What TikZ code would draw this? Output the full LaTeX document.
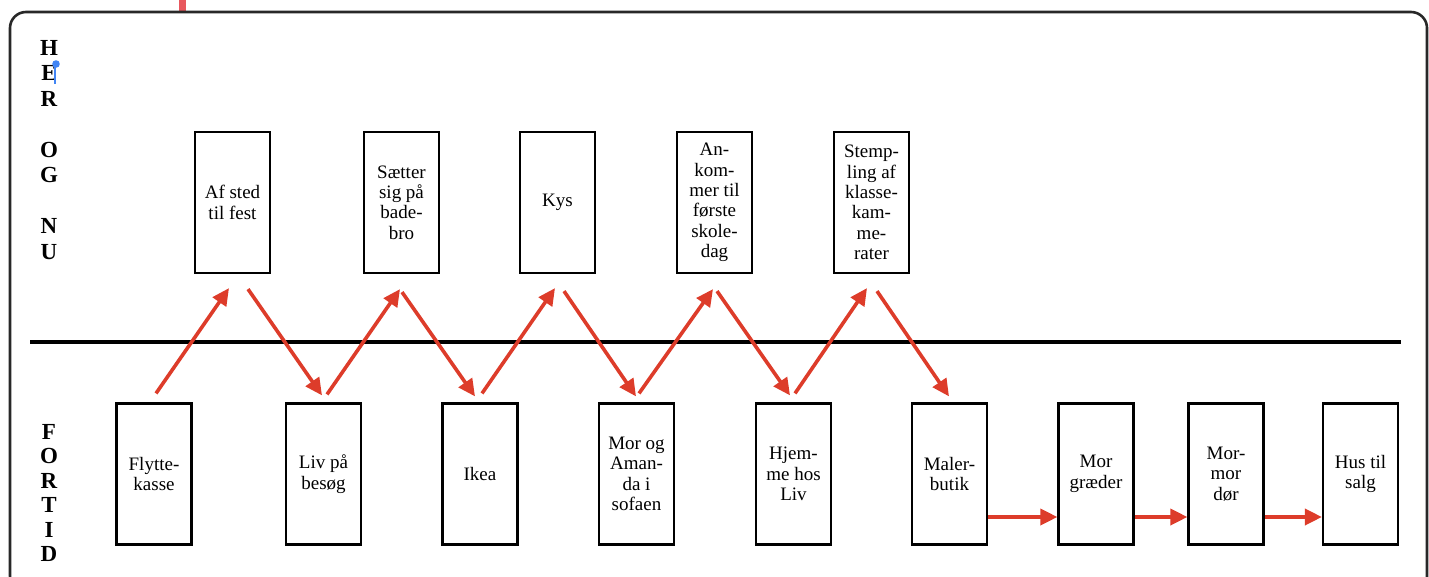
\documentclass[tikz,border=0pt]{standalone}
\usepackage{fontspec}
\setmainfont{Liberation Serif}
\usetikzlibrary{arrows.meta,calc}
\definecolor{arrowred}{RGB}{221,60,42}
\definecolor{framegray}{RGB}{40,40,40}
\definecolor{barpink}{RGB}{232,88,94}
\definecolor{cursorblue}{RGB}{66,133,244}
\begin{document}
\begin{tikzpicture}[x=1pt,y=-1pt,
  box/.style={draw=black, line width=2.2pt, minimum width=75pt, minimum height=141pt, inner sep=0pt, align=center, font=\fontsize{19}{20.4}\selectfont},
  flow/.style={draw=arrowred, line width=3.6pt, -{Triangle[length=17pt,width=16pt]}},
  side/.style={align=center, inner sep=0pt}]
\useasboundingbox (0,0) rectangle (1429,577);
\clip (0,0) rectangle (1429,577);
\fill[barpink] (179,0) rectangle (186,12);
\draw[framegray, line width=2.6pt, rounded corners=16pt] (10,12) rectangle (1427,592);

% side labels
\node[side, font=\fontsize{23}{25.5}\bfseries\selectfont] (herognu) at (49,150) {H\\E\\R\\[25.5pt]O\\G\\[25.5pt]N\\U};
\node[side, font=\fontsize{23}{24.4}\bfseries\selectfont] (fortid) at (49,493) {F\\O\\R\\T\\I\\D};

% cursor
\draw[cursorblue, line width=1.2pt] (55,64) -- (55,84);
\fill[cursorblue] (56,64) circle (3.8pt);

% divider
\coordinate (divL) at (30,342);
\coordinate (divR) at (1401,342);
\draw[black, line width=4pt] (divL) -- (divR);

% top row
\node[box] (afsted) at (232.5,202.5) {Af sted\\til fest};
\node[box] (saetter) at (401.5,202.5) {Sætter\\sig på\\bade-\\bro};
\node[box] (kys) at (557.5,202.5) {Kys};
\node[box] (ankommer) at (714.5,202.5) {An-\\kom-\\mer til\\første\\skole-\\dag};
\node[box] (stempling) at (871.5,202.5) {Stemp-\\ling af\\klasse-\\kam-\\me-\\rater};

% bottom row
\node[box] (flytte) at (154,474) {Flytte-\\kasse};
\node[box] (liv) at (323.5,474) {Liv på\\besøg};
\node[box] (ikea) at (480,474) {Ikea};
\node[box] (mor) at (636.5,474) {Mor og\\Aman-\\da i\\sofaen};
\node[box] (hjemme) at (793.5,474) {Hjem-\\me hos\\Liv};
\node[box] (maler) at (949.5,474) {Maler-\\butik};
\node[box] (graeder) at (1096,474) {Mor\\græder};
\node[box] (mormor) at (1226,474) {Mor-\\mor\\dør};
\node[box] (hus) at (1360.5,474) {Hus til\\salg};

% zigzag
\draw[flow] ($(flytte.north)+(2,-9)$) -- ($(afsted.south)+(-3.5,14)$);
\draw[flow] ($(afsted.south)+(15.5,15)$) -- ($(liv.north)+(-1.5,-7)$);
\draw[flow] ($(liv.north)+(3.5,-8)$) -- ($(saetter.south)+(-1.5,15)$);
\draw[flow] ($(saetter.south)+(0.5,18)$) -- ($(ikea.north)+(-5,-6)$);
\draw[flow] ($(ikea.north)+(2,-9)$) -- ($(kys.south)+(-2.5,14)$);
\draw[flow] ($(kys.south)+(6.5,17)$) -- ($(mor.north)+(-0.5,-6)$);
\draw[flow] ($(mor.north)+(2.5,-9)$) -- ($(ankommer.south)+(-1.5,15)$);
\draw[flow] ($(ankommer.south)+(2.5,17)$) -- ($(hjemme.north)+(-3.5,-7)$);
\draw[flow] ($(hjemme.north)+(1.5,-9)$) -- ($(stempling.south)+(-4.5,14)$);
\draw[flow] ($(stempling.south)+(5.5,17)$) -- ($(maler.north)+(-0.5,-6)$);

% horizontal
\draw[flow] ($(maler.east)+(0,43)$) -- ($(graeder.west)+(0,43)$);
\draw[flow] ($(graeder.east)+(0,43)$) -- ($(mormor.west)+(0,43)$);
\draw[flow] ($(mormor.east)+(0,43)$) -- ($(hus.west)+(0,43)$);
\end{tikzpicture}
\end{document}
